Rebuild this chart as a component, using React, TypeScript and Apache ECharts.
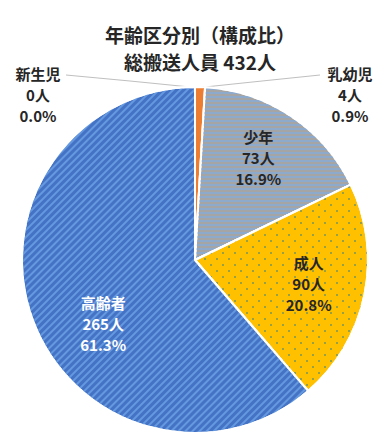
import React, { useEffect, useRef } from "react";
import * as echarts from "echarts";

const titleLines = ["年齢区分別（構成比）", "総搬送人員 432人"];
const categories = ["新生児", "乳幼児", "少年", "成人", "高齢者"];
const values = [0, 4, 73, 90, 265];
const sliceColors = ["#4472C4", "#ED7D31", "#A5A5A5", "#FFC000", "#4472C4"];
const unit = "人";

export default function App() {
  const ref = useRef<HTMLDivElement>(null);
  useEffect(() => {
    document.body.style.margin = "0";
    const chart = echarts.init(ref.current!, null, { renderer: "svg" });
    const total = values.reduce((a, b) => a + b, 0);
    const fmt = (p: any) =>
      `${p.name}\n${p.value}${unit}\n${((p.value / total) * 100).toFixed(1)}%`;
    const cx = 195, cy = 260, R = 173;

    const decals: any[] = [
      null,
      null,
      { symbol: "rect", symbolSize: 1, color: "#8DA9CB", dashArrayX: [1, 0], dashArrayY: [1.5, 1.5], rotation: 0 },
      { symbol: "rect", symbolSize: 1, color: "#98A046", dashArrayX: [[1.6, 9.4], [0, 5.5, 1.6, 3.9]], dashArrayY: [1.6, 4] },
      { symbol: "rect", symbolSize: 1, color: "#6499E0", dashArrayX: [1, 0], dashArrayY: [1.9, 2.1], rotation: -Math.PI / 4 },
    ];
    decals[0] = decals[4];

    const labelFont = {
      fontFamily: "Noto Sans CJK JP",
      fontSize: 15,
      fontWeight: "bold" as const,
      lineHeight: 21,
      color: "#262626",
    };

    const mainData = categories.map((name, i) => ({
      name,
      value: values[i],
      itemStyle: { color: sliceColors[i], decal: decals[i] || undefined },
      label: { show: i < 2 },
      labelLine: { show: i < 2 },
    }));
    const labelData = categories.map((name, i) => ({
      name,
      value: values[i],
      label: { show: i >= 2, color: i === 4 ? "#ffffff" : "#262626" },
    }));
    const innerShift: Record<number, [number, number]> = {
      2: [0, -8],
      3: [2, 0],
      4: [15, 24],
    };

    chart.setOption({
      animation: false,
      graphic: titleLines.map((t, i) => ({
        type: "text",
        x: 200,
        y: 34 + i * 27,
        silent: true,
        style: {
          text: t,
          align: "center",
          verticalAlign: "middle",
          fontFamily: "Noto Sans CJK JP",
          fontSize: 19,
          fontWeight: "bold",
          fill: "#262626",
        },
      })),
      series: [
        {
          type: "pie",
          center: [cx, cy],
          radius: [0, R],
          startAngle: 90,
          clockwise: true,
          avoidLabelOverlap: false,
          silent: true,
          itemStyle: { borderColor: "#ffffff", borderWidth: 2 },
          label: { position: "outside", formatter: fmt, ...labelFont },
          labelLine: { lineStyle: { color: "#BFBFBF", width: 1 } },
          labelLayout: (p: any) => {
            if (p.dataIndex === 0) {
              return {
                x: 38, y: 94, align: "center", verticalAlign: "middle",
                labelLinePoints: [[cx, cy - R + 0.5], [130, 81], [66, 75]],
              };
            }
            if (p.dataIndex === 1) {
              return {
                x: 350, y: 94, align: "center", verticalAlign: "middle",
                labelLinePoints: [[cx + 5, cy - R + 0.5], [262, 81], [320, 75]],
              };
            }
            return {};
          },
          data: mainData,
        },
        {
          type: "pie",
          center: [cx, cy],
          radius: [0, 222],
          startAngle: 90,
          clockwise: true,
          avoidLabelOverlap: false,
          silent: true,
          itemStyle: { color: "rgba(0,0,0,0)", borderWidth: 0 },
          label: { position: "inside", formatter: fmt, ...labelFont },
          labelLine: { show: false },
          labelLayout: (p: any) => {
            const s = innerShift[p.dataIndex];
            return s ? { dx: s[0], dy: s[1] } : {};
          },
          data: labelData,
        },
      ],
    });
    return () => chart.dispose();
  }, []);
  return <div ref={ref} style={{ width: 389, height: 443 }} />;
}
